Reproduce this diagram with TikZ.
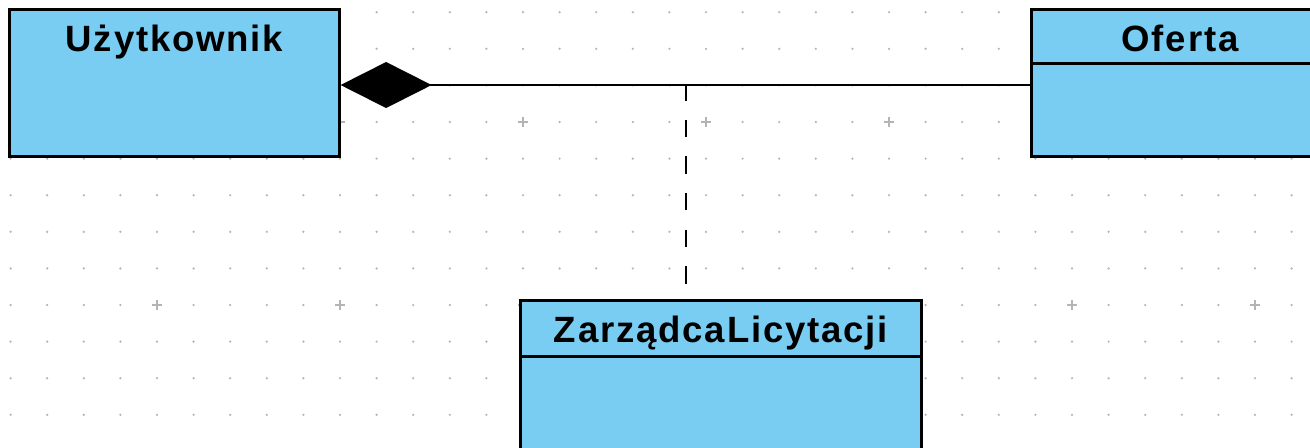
\documentclass[tikz,border=0pt]{standalone}
\usepackage{fontspec}
\setmainfont{Liberation Sans}
\usepackage{xcolor}
\usepackage{tikz}
\usetikzlibrary{arrows.meta}
\definecolor{classblue}{HTML}{79CDF3}
\definecolor{gridgray}{HTML}{B4B4B4}
\tikzset{
  classbox/.style={draw=black, line width=0.85pt, fill=classblue, inner sep=0pt},
  classname/.style={anchor=base, inner sep=0pt,
    font=\fontsize{10.4}{12.5}\selectfont\bfseries\addfontfeatures{LetterSpace=5}},
  assoc/.style={draw=black, line width=0.8pt},
  dep/.style={assoc, dash pattern=on 0.175cm off 0.191cm, dash phase=0.02cm},
}

\begin{document}
\begin{tikzpicture}[x=0.01cm, y=-0.01cm]
      \useasboundingbox (0,0) rectangle (1310,447);
      \fill[white] (0,0) rectangle (1310,447);
      \clip (0,0) rectangle (1310,447);
      % dotted grid with a cross every fifth point
      \foreach \i in {0,...,35}
        \foreach \j in {0,...,11}
          \fill[gridgray] (10.6+36.6*\i, 12.2+36.6*\j) circle (0.35pt);
      \foreach \i in {4,9,...,34}
        \foreach \j in {3,8}
          \draw[gridgray, line width=0.4pt, shift={(10.6+36.6*\i, 12.2+36.6*\j)}]
            (-5,0) -- (5,0) (0,-5) -- (0,5);

      % classes
      \node[classbox, minimum width=3.29cm, minimum height=1.46cm] (uzyt) at (174.5,83) {};
      \node[classname] (uzytname) at ([yshift=-0.43cm]uzyt.north) {Użytkownik};

      \node[classbox, minimum width=2.96cm, minimum height=1.46cm] (ofer) at (1180,83) {};
      \node[classname] (ofername) at ([yshift=-0.43cm]ofer.north) {Oferta};
      \draw[line width=0.85pt] (ofer.west |- 0,63) -- (ofer.east |- 0,63);

      \node[classbox, minimum width=4cm, minimum height=1.48cm] (zarz) at (721,375) {};
      \node[classname] (zarzname) at ([yshift=-0.43cm]zarz.north) {ZarządcaLicytacji};
      \draw[line width=0.85pt] (zarz.west |- 0,356) -- (zarz.east |- 0,356);

      % composition with association class
      \coordinate (mid) at (686,85);
      \draw[assoc, {Diamond[length=0.91cm, width=0.46cm]}-] (uzyt.east |- mid) -- (ofer.west |- mid);
      \draw[dep] (mid) -- (mid |- zarz.north);
    \end{tikzpicture}
\end{document}
